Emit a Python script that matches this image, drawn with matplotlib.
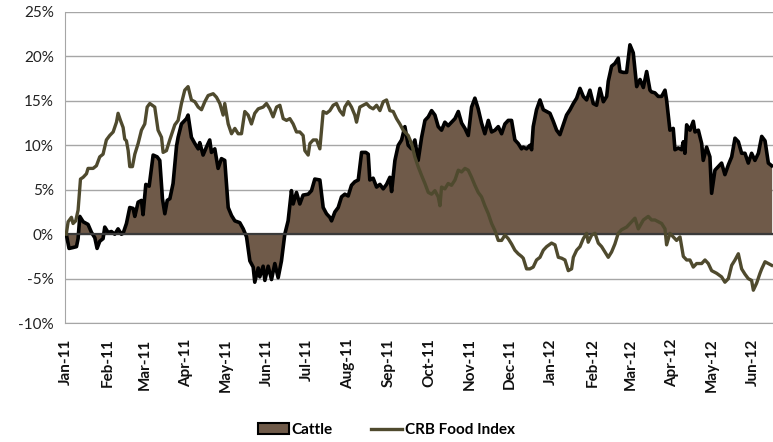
import numpy as np
import pandas as pd
import matplotlib
matplotlib.use('Agg')
import matplotlib.pyplot as plt
from matplotlib.patches import Patch
from matplotlib.lines import Line2D

plt.rcParams['font.family'] = ['Lato', 'DejaVu Sans']

start = pd.Timestamp('2011-01-01')

# days since 2011-01-01 / % change
cattle_days = [0, 2.1, 5.1, 7.7, 8.9, 10.2, 12.7, 16.4, 19, 21.5, 23.2, 25.2, 27.7, 29, 31.5, 34,
               36.5, 39, 41.5, 42.8, 45.3, 47.8, 50.3, 51.6, 54.1, 56.6, 57.8, 59.9, 62.4, 65.4,
               68.4, 70.4, 72.4, 74.2, 76, 78, 80.4, 83, 84.2, 86.7, 90.5, 91.7, 94.2, 96.8,
               99.3, 100.5, 103, 105.5, 108, 109.3, 111.8, 114.3, 116.8, 119.3, 121.9, 124.4,
               126.9, 130.6, 133.2, 135.7, 138.2, 140.7, 141.9, 144.5, 145.7, 148.2, 149.5, 152,
               154.5, 157, 159.5, 162, 164.5, 167, 169.5, 170.8, 173.3, 175.8, 178.3, 182.1,
               184.6, 187.1, 190.9, 193.4, 195.9, 198.4, 199.7, 202.2, 204.7, 207.2, 209.7,
               212.2, 214.7, 217.2, 219.8, 222.3, 225.5, 227.3, 228.5, 231, 233.6, 236.1, 238.6,
               241.1, 243.6, 244.9, 247.4, 249.9, 252.4, 254.9, 257.4, 259.9, 262.4, 264.9,
               267.5, 270, 272.5, 275, 277.5, 280, 282.5, 285, 287.5, 290, 292.6, 295.1, 297.6,
               300.1, 302.6, 305.1, 307.6, 310.1, 312.6, 315.1, 317.7, 320.2, 322.7, 325.2,
               327.7, 330.2, 332.7, 335.2, 337.7, 340.2, 342.7, 344, 346.5, 349, 350.3, 351.5,
               354, 356.6, 359.1, 361.6, 364.1, 366.6, 369.1, 371.6, 374.1, 376.6, 379.2, 381.7,
               384.2, 386.7, 389.2, 391.7, 394.2, 396.7, 399.2, 401.7, 404.3, 406.8, 408, 410.5,
               413, 415.5, 416.8, 419.3, 421.8, 424.3, 426.8, 429.4, 431.9, 434.4, 436.9, 439.4,
               440.6, 443.1, 445.6, 448.2, 450.7, 451.9, 454.4, 456.9, 458.2, 460.7, 463.2,
               464.5, 465.7, 467, 469.5, 472, 473.3, 475.8, 478.3, 479.5, 482, 484.5, 485.8,
               488.3, 490.8, 493.3, 495.8, 498.4, 500.9, 503.4, 505.9, 508.4, 510.9, 513.4,
               515.9, 518.4, 521, 523.5, 526, 528.5, 531]
cattle = [0, -1.6, -1.5, -1.4, -0.5, 2.0, 1.4, 1.1, 0.2, -0.4, -1.6, -0.8, -0.5, 0.8, 0.2, 0.3,
          0.0, 0.6, 0.0, 0.1, 1.2, 3.0, 2.9, 2.0, 3.6, 3.8, 2.2, 5.6, 5.4, 8.9,
          8.7, 8.3, 4.0, 2.3, 3.8, 4.0, 5.7, 9.9, 10.9, 12.4, 13.0, 13.4, 10.9, 10.2,
          9.6, 10.3, 8.9, 9.8, 10.6, 9.2, 9.6, 7.4, 8.5, 8.3, 3.0, 2.1,
          1.5, 1.3, 0.6, -0.3, -3.0, -3.7, -5.4, -3.8, -4.8, -3.6, -5.2, -3.6,
          -5.1, -3.3, -4.9, -3.0, 0.0, 1.5, 4.9, 3.4, 4.7, 3.4, 4.4, 4.5,
          4.9, 6.2, 6.1, 3.0, 2.3, 1.9, 1.5, 2.5, 3.0, 4.2, 4.5,
          4.3, 5.5, 5.9, 6.1, 9.2, 9.2, 9.0, 6.1, 6.3, 5.3, 5.6, 5.1,
          5.6, 6.4, 4.8, 8.3, 10.0, 10.6, 12.1, 10.0, 9.6, 10.6, 8.3,
          10.9, 12.8, 13.2, 13.9, 13.4, 12.1, 11.7, 12.6, 12.2, 12.6, 13.0, 13.8, 12.5,
          11.9, 11.1, 14.3, 15.3, 14.1, 12.5, 11.3, 12.8, 11.5, 11.7, 12.1,
          11.3, 12.4, 12.8, 12.8, 10.6, 10.2, 9.6, 9.8, 9.6, 10.0, 9.5, 12.1,
          14.0, 15.1, 14.0, 13.8, 13.6, 12.7, 11.7, 11.2, 12.3, 13.4, 14.0, 14.7,
          15.3, 16.4, 15.5, 15.1, 16.2, 14.7, 14.5, 16.4, 14.9, 15.5, 17.2, 18.9,
          19.2, 19.8, 18.3, 18.2, 18.2, 21.3, 20.4, 16.6, 17.4, 16.5, 18.3, 16.2,
          16.0, 15.9, 15.5, 15.5, 16.2, 15.1, 11.7, 11.9, 9.5, 9.7, 9.5,
          10.4, 9.1, 12.3, 11.7, 12.7, 11.5, 11.7, 10.2, 8.3, 9.8, 8.7, 4.6,
          7.2, 7.6, 8.0, 6.7, 7.8, 8.7, 10.8, 10.4, 9.1, 9.1, 8.0,
          9.1, 8.3, 9.1, 11.0, 10.5, 8.0, 7.7]

crb_days = [0, 1.4, 3.9, 5.1, 7.1, 8.9, 10.7, 12.7, 15.2, 16.4, 20.2, 22.7, 25.2, 27.7, 30.2,
            32.7, 35.3, 37.8, 39, 40.8, 42.8, 44, 45.3, 46.6, 47.8, 49.8, 51.6, 54.1, 56.6,
            59.1, 60.9, 62.9, 66.6, 69.1, 71.7, 72.9, 75.4, 77.9, 81.7, 84.2, 86.7, 89.2,
            91.7, 94.2, 96.8, 99.3, 101.8, 104.3, 106.8, 110.6, 113.1, 115.6, 118.1, 119.3,
            121.9, 124.4, 126.9, 129.4, 131.9, 134.4, 136.9, 139.4, 141.9, 144.5, 148.2,
            150.7, 153.2, 155.7, 158.3, 160.8, 163.3, 165.8, 168.3, 170.8, 173.3, 175.8,
            178.3, 179.6, 182.1, 183.4, 185.9, 188.4, 190.9, 193.4, 195.9, 198.4, 200.9,
            203.4, 205.9, 208.5, 209.7, 212.2, 214.7, 217.2, 218.5, 221, 223.5, 226, 228.5,
            231, 233.6, 236.1, 238.6, 241.1, 243.6, 246.1, 248.6, 251.1, 253.6, 257.4,
            259.9, 262.4, 264.9, 267.5, 270, 272.5, 275, 277.5, 280, 281.3, 282.5, 285,
            287.5, 290, 292.6, 295.1, 297.6, 300.1, 302.6, 305.1, 307.6, 310.1, 312.6, 315.1,
            317.7, 320.2, 322.7, 325.2, 327.7, 330.2, 332.7, 335.2, 337.7, 340.2, 342.7, 344,
            346.5, 349, 351.5, 354, 356.6, 359.1, 361.6, 365.3, 367.9, 370.4, 372.9, 375.4,
            377.9, 380.4, 381.7, 384.2, 386.7, 389.2, 391.7, 392.9, 395.5, 398, 400.5, 403,
            405.5, 408, 410.5, 413, 415.5, 418, 421.8, 425.6, 428.1, 430.6, 434.4, 438.1,
            440.6, 443.1, 445.6, 448.2, 450.7, 451.9, 454.4, 456.9, 459.4, 462, 464.5, 467,
            469.5, 472, 474.5, 478.3, 480.8, 483.3, 485.8, 489.6, 493.3, 495.8, 498.4, 500.9,
            503.4, 505.9, 508.4, 510.9, 513.4, 515.9, 517.2, 519.7, 522.2, 523.5, 526, 528.5,
            531]
crb = [0, 1.4, 1.9, 1.2, 1.5, 2.7, 6.2, 6.4, 6.8, 7.4, 7.4, 7.7, 8.7, 9.0, 10.6,
       11.1, 11.5, 12.6, 13.6, 12.8, 12.0, 10.7, 10.5, 9.4, 7.6, 7.6, 9.0, 10.2, 11.7,
       12.4, 14.3, 14.7, 14.3, 11.7, 10.9, 9.2, 9.4, 10.6, 12.3, 12.8, 14.7, 16.2,
       16.6, 15.1, 14.9, 14.3, 14.0, 14.9, 15.6, 15.8, 15.4, 14.7, 13.4, 14.7,
       12.4, 11.3, 11.9, 11.3, 11.3, 13.8, 13.4, 12.4, 13.6, 14.1, 14.3,
       14.7, 14.1, 13.2, 14.3, 14.5, 13.0, 12.8, 13.0, 12.4, 11.5, 11.5,
       11.1, 9.4, 8.9, 10.2, 10.6, 10.6, 9.6, 13.8, 13.6, 13.9, 14.5,
       14.7, 13.9, 13.4, 14.3, 14.9, 14.3, 13.4, 12.6, 14.3, 14.5, 14.7, 14.3,
       14.1, 14.5, 13.9, 14.9, 15.1, 13.9, 13.8, 13.0, 12.4, 11.7, 11.1,
       10.2, 8.7, 7.6, 6.6, 5.7, 4.7, 4.5, 4.9, 4.2, 3.2, 5.3, 5.1,
       5.7, 5.5, 6.1, 7.2, 7.0, 7.4, 7.2, 6.4, 5.5, 4.7, 4.2, 3.2,
       2.3, 1.2, 0.4, -0.7, -0.7, -0.1, -0.5, -1.1, -1.8, -2.2, -2.5, -2.7,
       -3.9, -3.9, -3.7, -2.9, -2.6, -1.8, -1.4, -1.0, -1.2, -2.6, -2.7, -2.9,
       -4.1, -3.9, -2.6, -1.8, -1.4, -0.5, 0.1, -0.9, -0.1, 0.1, -1.0, -1.4,
       -2.0, -2.6, -2.0, -1.1, 0.1, 0.5, 0.8, 1.4, 1.8, 0.6, 1.6, 2.0,
       1.6, 1.6, 1.4, 1.2, 0.6, -1.2, 0.1, -0.3, -0.7, -0.3, -2.5, -2.9,
       -2.9, -3.7, -3.3, -3.3, -2.9, -3.3, -4.1, -4.4, -4.8, -5.4, -5.0, -3.5,
       -2.9, -2.2, -3.9, -4.5, -5.0, -5.2, -6.3, -5.5, -4.4, -3.9, -3.1, -3.3,
       -3.5]

month_ticks = pd.date_range('2011-01-01', '2012-06-01', freq='MS')
month_labels = [d.strftime('%b-%y') for d in month_ticks]
y_ticks = [-10, -5, 0, 5, 10, 15, 20, 25]

cx = start + pd.to_timedelta(cattle_days, unit='D')
rx = start + pd.to_timedelta(crb_days, unit='D')
cy = np.array(cattle) / 100
ry = np.array(crb) / 100

fig = plt.figure(figsize=(7.73, 4.42), dpi=100)
ax = fig.add_axes([0.084, 0.269, 0.916, 0.704])

fill_col = '#6f5a49'
crb_col = '#4f4a2e'

ax.fill_between(cx, 0, cy, color=fill_col, lw=0, zorder=2)
ax.plot(cx, cy, color='black', lw=2.6, zorder=3)
ax.axhline(0, color='#3a3a3a', lw=1.6, zorder=4)
ax.plot(rx, ry, color=crb_col, lw=2.4, zorder=5)

ax.set_ylim(-0.10, 0.25)
ax.set_yticks([v / 100 for v in y_ticks])
ax.set_yticklabels([f'{v}%' for v in y_ticks], fontsize=11, color='#222222')
ax.set_xlim(start - pd.Timedelta(days=1), start + pd.Timedelta(days=532))
ax.set_xticks(month_ticks)
ax.set_xticklabels(month_labels, rotation=90, fontsize=11, fontweight='bold', color='#111111')
ax.tick_params(axis='x', length=0, pad=11)
ax.tick_params(axis='y', length=0, pad=8)
ax.grid(axis='y', color='#a6a6a6', lw=1.0, zorder=0)
for s in ['top', 'right']:
    ax.spines[s].set_visible(False)
ax.spines['left'].set_color('#a6a6a6')
ax.spines['bottom'].set_color('#a6a6a6')

handles = [Patch(facecolor=fill_col, edgecolor='black', lw=1.5),
           Line2D([], [], color=crb_col, lw=2.4)]
fig.legend(handles, ['Cattle', 'CRB Food Index'], loc='center', bbox_to_anchor=(0.5, 0.027),
           ncol=2, frameon=False, prop={'weight': 'bold', 'size': 11},
           handlelength=2.0, handletextpad=0.2, columnspacing=2.5)

fig.savefig('out.png', dpi=100)
